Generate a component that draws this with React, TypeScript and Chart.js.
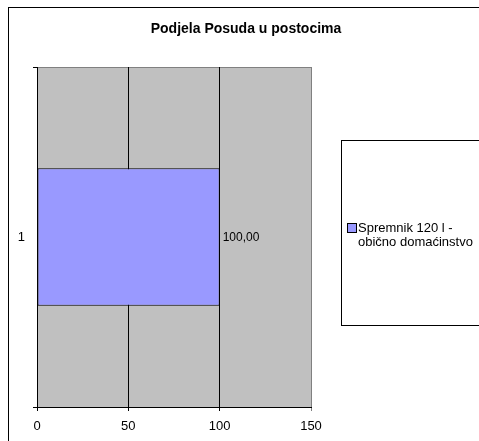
import React, { useEffect, useRef } from "react";
import { Chart, registerables } from "chart.js";

Chart.register(...registerables);

const title = "Podjela Posuda u postocima";
const categories = ["1"];
const seriesLabelLines = ["Spremnik 120 l -", "obično domaćinstvo"];
const seriesValues = [100];
const xMin = 0;
const xMax = 150;
const xStep = 50;

const FONT = "'Liberation Sans', Arial, sans-serif";

const decor = {
  id: "decor",
  beforeDraw(chart: any) {
    const { ctx, chartArea } = chart;
    const W = chart.width;
    const H = chart.height;
    ctx.save();
    ctx.fillStyle = "#ffffff";
    ctx.fillRect(0, 0, W, H);
    // outer frame
    ctx.strokeStyle = "#000000";
    ctx.lineWidth = 1;
    ctx.strokeRect(8.5, 7.5, W + 20, H + 20);
    // title
    ctx.fillStyle = "#000000";
    ctx.font = `bold 14px ${FONT}`;
    ctx.textAlign = "center";
    ctx.textBaseline = "middle";
    ctx.fillText(title, 246, 29);
    // plot background
    ctx.fillStyle = "#C0C0C0";
    ctx.fillRect(chartArea.left, chartArea.top, chartArea.right - chartArea.left, chartArea.bottom - chartArea.top);
    ctx.strokeStyle = "#808080";
    ctx.beginPath();
    ctx.moveTo(chartArea.left, Math.round(chartArea.top) + 0.5);
    ctx.lineTo(Math.round(chartArea.right) + 0.5, Math.round(chartArea.top) + 0.5);
    ctx.lineTo(Math.round(chartArea.right) + 0.5, chartArea.bottom);
    ctx.stroke();
    ctx.restore();
  },
  afterDatasetsDraw(chart: any) {
    const { ctx } = chart;
    const meta = chart.getDatasetMeta(0);
    ctx.save();
    ctx.fillStyle = "#000000";
    ctx.font = `12px ${FONT}`;
    ctx.textAlign = "left";
    ctx.textBaseline = "middle";
    meta.data.forEach((el: any, i: number) => {
      const v = chart.data.datasets[0].data[i] as number;
      ctx.fillText(v.toFixed(2).replace(".", ","), el.x + 3, el.y + 1);
    });
    ctx.restore();
  },
  afterDraw(chart: any) {
    const { ctx } = chart;
    const ds = chart.data.datasets[0];
    ctx.save();
    ctx.fillStyle = "#ffffff";
    ctx.fillRect(341.5, 140.5, 200, 185);
    ctx.strokeStyle = "#000000";
    ctx.lineWidth = 1;
    ctx.strokeRect(341.5, 140.5, 200, 185);
    ctx.fillStyle = ds.backgroundColor as string;
    ctx.fillRect(347.5, 223.5, 9, 9);
    ctx.strokeStyle = "#000000";
    ctx.strokeRect(347.5, 223.5, 9, 9);
    ctx.fillStyle = "#000000";
    ctx.font = `13px ${FONT}`;
    ctx.textAlign = "left";
    ctx.textBaseline = "middle";
    seriesLabelLines.forEach((line, i) => {
      ctx.fillText(line, 358, 228.5 + i * 14);
    });
    ctx.restore();
  },
};

export default function App() {
  const canvasRef = useRef<HTMLCanvasElement | null>(null);

  useEffect(() => {
    if (!canvasRef.current) return;
    const chart = new Chart(canvasRef.current, {
      type: "bar",
      data: {
        labels: categories,
        datasets: [
          {
            label: seriesLabelLines.join(" "),
            data: seriesValues,
            backgroundColor: "#9999FF",
            borderColor: "#000000",
            borderWidth: 1,
            borderSkipped: false,
            barPercentage: 1,
            categoryPercentage: 0.404,
          },
        ],
      },
      options: {
        indexAxis: "y",
        animation: false,
        responsive: false,
        maintainAspectRatio: false,
        events: [],
        layout: { padding: { left: 8, top: 67, right: 168, bottom: 0 } },
        plugins: {
          legend: { display: false },
          title: { display: false },
          tooltip: { enabled: false },
        },
        scales: {
          x: {
            type: "linear",
            min: xMin,
            max: xMax,
            ticks: {
              stepSize: xStep,
              color: "#000000",
              font: { family: FONT, size: 13 },
              padding: 8,
              maxRotation: 0,
            },
            grid: {
              color: (c: any) => (c.tick && c.tick.value === xMax ? "#808080" : "#000000"),
              lineWidth: 1,
              tickLength: 4,
            },
            border: { display: true, color: "#000000" },
            afterFit: (s: any) => {
              s.height = 34;
            },
          },
          y: {
            type: "category",
            ticks: {
              color: "#000000",
              font: { family: FONT, size: 13 },
              padding: 8,
            },
            grid: {
              offset: true,
              drawOnChartArea: false,
              color: "#000000",
              tickLength: 4,
            },
            border: { display: true, color: "#000000" },
            afterFit: (s: any) => {
              s.width = 29;
            },
          },
        },
      },
      plugins: [decor],
    });
    return () => chart.destroy();
  }, []);

  return (
    <div style={{ position: "absolute", left: 0, top: 0, width: 479, height: 441, overflow: "hidden" }}>
      <canvas ref={canvasRef} width={479} height={441} style={{ display: "block" }} />
    </div>
  );
}
